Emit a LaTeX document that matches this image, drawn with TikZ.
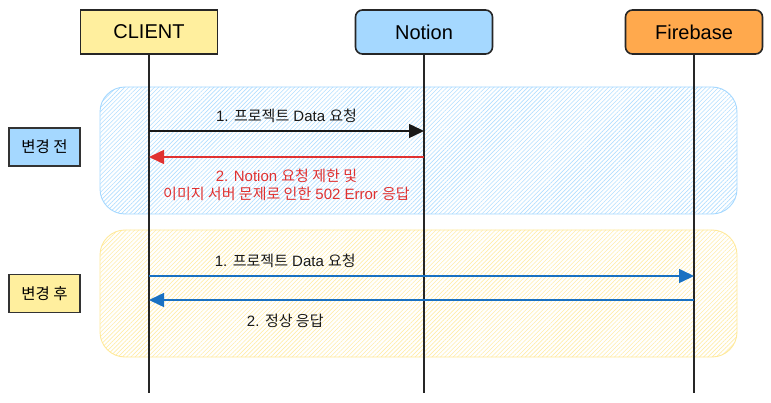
\documentclass[tikz,border=0pt]{standalone}
\usepackage{fontspec}
\setmainfont{Liberation Sans}
\newfontfamily\kr{Noto Sans CJK KR}
\usetikzlibrary{arrows.meta,patterns.meta,positioning}
\definecolor{clientyellow}{HTML}{FFEF9E}
\definecolor{notionblue}{HTML}{A5D8FF}
\definecolor{fireorange}{HTML}{FFA94D}
\definecolor{regionblue}{HTML}{A5D8FF}
\definecolor{regionyellow}{HTML}{FFE99A}
\definecolor{msgred}{HTML}{E03131}
\definecolor{msgblue}{HTML}{1971C2}
\begin{document}
\begin{tikzpicture}
  [x=1pt, y=-1pt, >={Triangle[length=15pt,width=14pt]},
    every actor/.style={
      draw=black!85,
      line width=1.6pt,
      minimum width=137pt,
      minimum height=44pt,
      inner sep=0pt,
      font=\fontsize{20}{24}\selectfont
    },
    actor round/.style={rounded corners=7pt},
    phase/.style={
      draw=black!80,
      line width=1.3pt,
      minimum width=71pt,
      minimum height=38pt,
      inner sep=0pt,
      font=\kr\fontsize{15.5}{18}\selectfont
    },
    region/.style={
      draw=#1,
      line width=0.9pt,
      rounded corners=25pt,
      pattern={Lines[angle=45,distance=3pt,line width=0.6pt]},
      pattern color=#1!85
    },
    lifeline/.style={draw=black!85, line width=2pt},
    msg/.style={line width=1.5pt},
    msg label/.style={font=\fontsize{15}{18}\selectfont, align=center, text=black!90}
  ]
\useasboundingbox (0,0) rectangle (771,403);

% Draw the two phase regions
\draw [region=regionblue] (100,87) rectangle (737,214);
\draw [region=regionyellow] (100,230) rectangle (737,357);

% Draw actors
\foreach \n/\l/\x/\c/\s in {client/CLIENT/149/clientyellow/,
    notion/Notion/424/notionblue/actor round,
    firebase/Firebase/694/fireorange/actor round}
  \node [every actor/.try, \s, fill=\c] (\n) at (\x,32) {\l};

% Draw lifelines
\foreach \n in {client,notion,firebase}
  {
  \coordinate (\n-end) at (\n.south |- 0,393);
  \draw [lifeline] (\n.south) -- (\n-end);
  }

% Phase labels
\node [phase, fill=notionblue] (before) at (44.5,147) {변경 전};
\node [phase, fill=clientyellow] (after) at (44.5,293.5) {변경 후};

% Message anchors on the lifelines
\foreach \n/\y/\m in {client/131/a1, notion/131/b1, client/157/a2, notion/157/b2,
    client/276/a3, firebase/276/b3, client/300/a4, firebase/300/b4}
  \coordinate (\m) at (\n.south |- 0,\y);

% Before: Notion
\draw [->, msg, black!90] (a1) -- (b1)
  node [msg label, midway, above=4pt] (msg1) {1. {\kr 프로젝트} Data {\kr 요청}};
\draw [->, msg, msgred] (b2) -- (a2)
  node [msg label, midway, below=8pt, text=msgred] (msg2)
  {2. Notion {\kr 요청 제한 및}\\{\kr 이미지 서버 문제로 인한} 502 Error {\kr 응답}};

% After: Firebase
\draw [->, msg, msgblue] (a3) -- (b3)
  node [msg label, pos=0.25, above=4pt] (msg3) {1. {\kr 프로젝트} Data {\kr 요청}};
\draw [->, msg, msgblue] (b4) -- (a4)
  node [msg label, pos=0.75, below=10pt] (msg4) {2. {\kr 정상 응답}};
\end{tikzpicture}
\end{document}
